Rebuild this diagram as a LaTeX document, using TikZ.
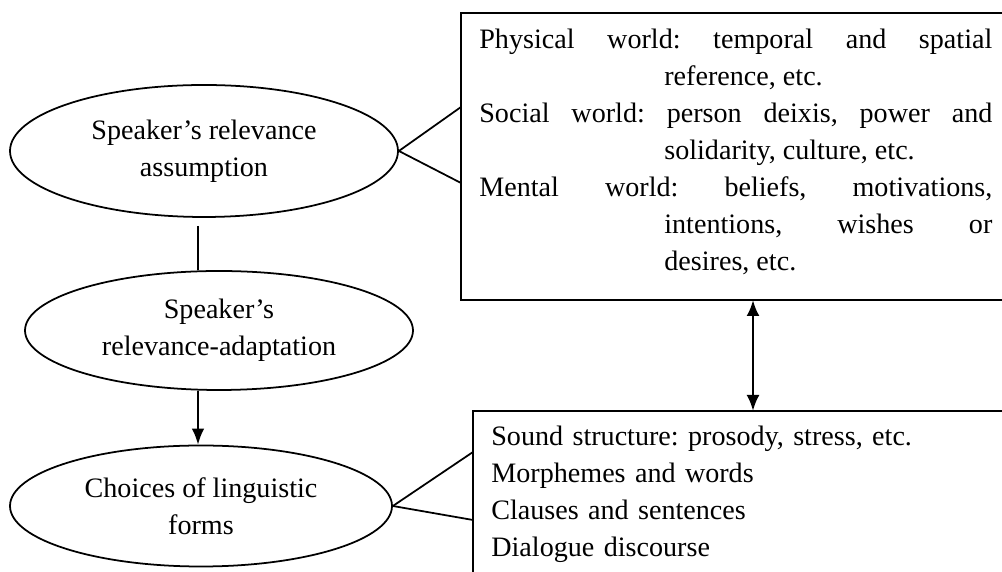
\documentclass[tikz,border=0pt]{standalone}
\usepackage{fontspec}
\setmainfont{Liberation Serif}
\usetikzlibrary{shapes.geometric,arrows.meta}

\begin{document}
\begin{tikzpicture}[font=\fontsize{16}{21}\selectfont\frenchspacing,
  oval/.style={draw, ellipse, line width=1pt, inner sep=0pt, align=center},
  frame/.style={line width=1.2pt},
  link/.style={line width=1pt},
  tip/.style={-{Latex[length=0.32cm,width=0.25cm]}}]
%\draw[help lines] (0,0) grid (20,11);
\useasboundingbox (0,0) rectangle (20.04,11.44);
\node (rel) [oval, minimum width=7.76cm, minimum height=2.64cm] at (4.08,8.42) {Speaker's relevance\\assumption};
\node (adapt) [oval, minimum width=7.76cm, minimum height=2.38cm] at (4.38,4.83) {Speaker's\\relevance-adaptation};
\node (choice) [oval, minimum width=7.64cm, minimum height=2.42cm] at (4.02,1.32) {Choices of linguistic\\forms};

\node (worlds) [anchor=base west, text width=10.26cm, inner sep=0pt, align=justify] at (9.58,10.46) {\tolerance=10000\hbadness=10000
{\hangindent=3.7cm\hangafter=1 Physical world: temporal and spatial\linebreak reference, etc.\par}
{\hangindent=3.7cm\hangafter=1 Social world: person deixis, power and\linebreak solidarity, culture, etc.\par}
{\hangindent=3.7cm\hangafter=1 Mental world: beliefs, motivations,\linebreak intentions, wishes or\linebreak desires, etc.\par}};
\node (forms) [anchor=base west, text width=9.5cm, inner sep=0pt, align=left] at (9.82,2.52) {Sound structure: prosody, stress, etc.\\Morphemes and words\\Clauses and sentences\\Dialogue discourse};

\coordinate (wne) at (20.04,11.18);
\coordinate (wnw) at (9.22,11.18);
\coordinate (wsw) at (9.22,5.44);
\coordinate (wse) at (20.04,5.44);
\coordinate (fne) at (20.04,3.22);
\coordinate (fnw) at (9.46,3.22);
\coordinate (fsw) at (9.46,0);
\coordinate (w1) at (9.22,9.30);
\coordinate (w2) at (9.22,7.78);
\coordinate (f1) at (9.46,2.40);
\coordinate (f2) at (9.46,1.04);
\coordinate (v1) at (3.96,6.92);
\coordinate (d1) at (15.06,5.44);
\coordinate (d2) at (15.06,3.22);

\draw [frame] (wne) -- (wnw) -- (wsw) -- (wse);
\draw [frame] (fne) -- (fnw) -- (fsw);

\path
(rel.east) edge [link] (w1)
(rel.east) edge [link] (w2)
(choice.east) edge [link] (f1)
(choice.east) edge [link] (f2)
(v1) edge [link] (v1 |- adapt.north)
(v1 |- adapt.south) edge [link, tip] (v1 |- choice.north)
(d1) edge [line width=1.5pt, {Latex[length=0.32cm,width=0.26cm]}-{Latex[length=0.32cm,width=0.26cm]}] (d2);
\end{tikzpicture}
\end{document}
